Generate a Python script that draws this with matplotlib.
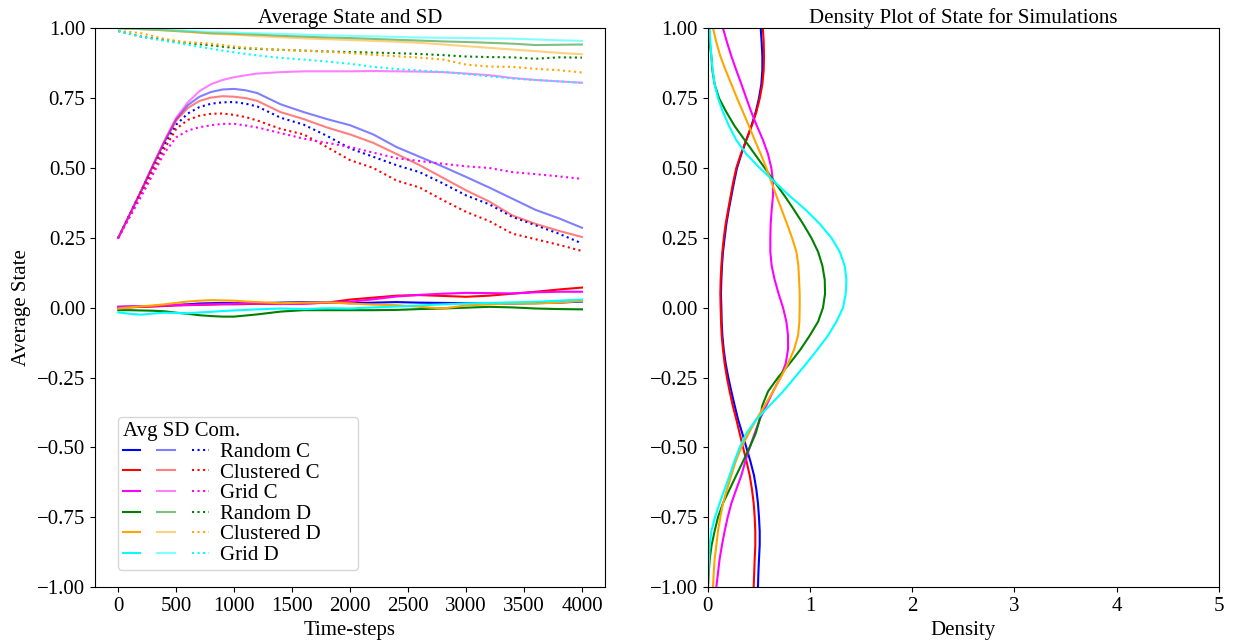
import numpy as np
import matplotlib
matplotlib.use("Agg")
import matplotlib.pyplot as plt
from matplotlib.legend_handler import HandlerTuple

plt.rcParams['font.family'] = ['Liberation Serif', 'DejaVu Serif']
plt.rcParams['font.size'] = 15

# time axis of the left panel (finer at the start where curves bend)
steps = list(range(0, 1201, 100)) + list(range(1400, 4001, 200))

labels = ["Random C", "Clustered C", "Grid C", "Random D", "Clustered D", "Grid D"]
colors = ["blue", "red", "magenta", "green", "orange", "cyan"]

# average state
avg_random_c = [0.003, 0.004, 0.005, 0.006, 0.008, 0.010, 0.012, 0.015, 0.016, 0.017, 0.016, 0.016, 0.016,
                0.018, 0.020, 0.019, 0.016, 0.018, 0.020, 0.018, 0.017, 0.016, 0.015, 0.015, 0.016, 0.018, 0.022]
avg_clustered_c = [0.000, 0.001, 0.003, 0.004, 0.006, 0.008, 0.009, 0.010, 0.011, 0.012, 0.012, 0.013, 0.014,
                   0.013, 0.015, 0.018, 0.029, 0.036, 0.043, 0.045, 0.042, 0.039, 0.043, 0.050, 0.057, 0.065, 0.072]
avg_grid_c = [0.003, 0.004, 0.005, 0.006, 0.008, 0.009, 0.010, 0.011, 0.012, 0.013, 0.014, 0.015, 0.016,
              0.013, 0.014, 0.018, 0.021, 0.030, 0.040, 0.046, 0.050, 0.053, 0.052, 0.051, 0.055, 0.057, 0.057]
avg_random_d = [-0.009, -0.009, -0.010, -0.011, -0.013, -0.018, -0.022, -0.027, -0.030, -0.032, -0.032, -0.028, -0.024,
                -0.014, -0.009, -0.009, -0.009, -0.009, -0.008, -0.005, -0.003, 0.000, 0.003, 0.001, -0.003, -0.005, -0.006]
avg_clustered_d = [-0.003, 0.001, 0.005, 0.008, 0.012, 0.017, 0.022, 0.025, 0.027, 0.026, 0.025, 0.022, 0.020,
                   0.016, 0.018, 0.019, 0.015, 0.011, 0.009, 0.003, -0.003, 0.008, 0.012, 0.015, 0.015, 0.018, 0.024]
avg_grid_d = [-0.017, -0.022, -0.025, -0.021, -0.018, -0.019, -0.020, -0.017, -0.015, -0.012, -0.010, -0.008, -0.006,
              -0.003, -0.005, -0.002, -0.003, 0.001, 0.004, 0.008, 0.012, 0.015, 0.017, 0.019, 0.021, 0.025, 0.029]

# standard deviation
sd_random_c = [0.25, 0.335, 0.42, 0.51, 0.595, 0.675, 0.725, 0.755, 0.772, 0.781, 0.783, 0.778, 0.768,
               0.728, 0.700, 0.675, 0.653, 0.620, 0.575, 0.540, 0.505, 0.468, 0.430, 0.390, 0.350, 0.320, 0.286]
sd_clustered_c = [0.25, 0.335, 0.42, 0.51, 0.595, 0.67, 0.715, 0.740, 0.752, 0.757, 0.755, 0.750, 0.740,
                  0.700, 0.675, 0.645, 0.620, 0.590, 0.550, 0.510, 0.465, 0.420, 0.380, 0.330, 0.300, 0.275, 0.253]
sd_grid_c = [0.25, 0.335, 0.42, 0.51, 0.60, 0.68, 0.735, 0.775, 0.800, 0.815, 0.825, 0.832, 0.838,
             0.843, 0.846, 0.846, 0.846, 0.847, 0.846, 0.845, 0.843, 0.838, 0.832, 0.822, 0.815, 0.810, 0.805]
sd_random_d = [1.0, 0.999, 0.997, 0.995, 0.993, 0.990, 0.988, 0.985, 0.982, 0.981, 0.980, 0.978, 0.977,
               0.973, 0.970, 0.967, 0.965, 0.962, 0.959, 0.956, 0.953, 0.951, 0.948, 0.945, 0.940, 0.941, 0.942]
sd_clustered_d = [1.0, 0.999, 0.997, 0.995, 0.992, 0.990, 0.987, 0.984, 0.981, 0.979, 0.977, 0.975, 0.972,
                  0.968, 0.964, 0.961, 0.958, 0.955, 0.952, 0.948, 0.942, 0.936, 0.930, 0.924, 0.918, 0.912, 0.907]
sd_grid_d = [1.0, 0.999, 0.998, 0.997, 0.995, 0.993, 0.991, 0.989, 0.987, 0.986, 0.985, 0.983, 0.982,
             0.980, 0.977, 0.975, 0.973, 0.971, 0.969, 0.967, 0.966, 0.965, 0.964, 0.963, 0.960, 0.957, 0.955]

# community measure
com_random_c = [0.25, 0.335, 0.42, 0.505, 0.585, 0.655, 0.695, 0.718, 0.730, 0.735, 0.736, 0.730, 0.720,
                0.680, 0.655, 0.615, 0.570, 0.540, 0.510, 0.485, 0.445, 0.402, 0.370, 0.325, 0.295, 0.265, 0.230]
com_clustered_c = [0.25, 0.33, 0.41, 0.49, 0.57, 0.64, 0.672, 0.687, 0.694, 0.695, 0.690, 0.682, 0.670,
                   0.640, 0.620, 0.575, 0.528, 0.500, 0.455, 0.430, 0.385, 0.343, 0.310, 0.265, 0.245, 0.225, 0.203]
com_grid_c = [0.25, 0.325, 0.40, 0.478, 0.555, 0.61, 0.634, 0.646, 0.653, 0.658, 0.658, 0.652, 0.645,
              0.625, 0.605, 0.590, 0.575, 0.555, 0.535, 0.525, 0.515, 0.506, 0.500, 0.485, 0.478, 0.470, 0.461]
com_random_d = [0.99, 0.98, 0.97, 0.964, 0.958, 0.952, 0.947, 0.943, 0.939, 0.934, 0.930, 0.928, 0.926,
                0.923, 0.920, 0.917, 0.915, 0.913, 0.911, 0.908, 0.904, 0.899, 0.897, 0.896, 0.891, 0.896, 0.895]
com_clustered_d = [0.99, 0.987, 0.982, 0.972, 0.962, 0.955, 0.950, 0.948, 0.945, 0.940, 0.935, 0.931, 0.928,
                   0.923, 0.920, 0.916, 0.911, 0.905, 0.900, 0.895, 0.888, 0.870, 0.863, 0.862, 0.855, 0.850, 0.842]
com_grid_d = [0.99, 0.98, 0.97, 0.962, 0.955, 0.948, 0.941, 0.934, 0.927, 0.920, 0.914, 0.908, 0.903,
              0.894, 0.888, 0.881, 0.873, 0.862, 0.854, 0.849, 0.844, 0.836, 0.828, 0.820, 0.815, 0.810, 0.805]

# density curves of state (right panel), state from 1 down to -1
state = np.round(np.linspace(1.0, -1.0, 41), 2)
dens_random_c = [0.519, 0.528, 0.535, 0.535, 0.525, 0.502, 0.470, 0.427, 0.378, 0.330, 0.287,
                 0.258, 0.232, 0.206, 0.183, 0.166, 0.150, 0.140, 0.134, 0.130, 0.134,
                 0.137, 0.144, 0.157, 0.176, 0.202, 0.232, 0.264, 0.297, 0.339, 0.378,
                 0.418, 0.453, 0.476, 0.492, 0.502, 0.509, 0.509, 0.502, 0.496, 0.492]
dens_clustered_c = [0.540, 0.548, 0.551, 0.548, 0.535, 0.510, 0.476, 0.430, 0.378, 0.325, 0.280,
                    0.250, 0.225, 0.200, 0.176, 0.158, 0.144, 0.134, 0.127, 0.124, 0.127,
                    0.131, 0.137, 0.150, 0.166, 0.188, 0.215, 0.245, 0.280, 0.313, 0.346,
                    0.380, 0.411, 0.433, 0.450, 0.460, 0.466, 0.466, 0.460, 0.455, 0.450]
dens_grid_c = [0.150, 0.189, 0.232, 0.280, 0.330, 0.378, 0.427, 0.482, 0.541, 0.590, 0.623,
               0.639, 0.639, 0.626, 0.616, 0.613, 0.613, 0.626, 0.655, 0.694, 0.737,
               0.770, 0.786, 0.786, 0.763, 0.711, 0.639, 0.574, 0.509, 0.460, 0.411,
               0.368, 0.330, 0.280, 0.232, 0.196, 0.166, 0.140, 0.117, 0.101, 0.085]
dens_random_d = [0.013, 0.020, 0.036, 0.046, 0.068, 0.111, 0.183, 0.264, 0.362, 0.460, 0.558,
                 0.655, 0.753, 0.845, 0.933, 1.014, 1.080, 1.122, 1.145, 1.148, 1.128,
                 1.080, 0.998, 0.907, 0.802, 0.688, 0.590, 0.535, 0.509, 0.470, 0.411,
                 0.346, 0.280, 0.215, 0.150, 0.101, 0.068, 0.039, 0.020, 0.010, 0.003]
dens_clustered_d = [0.052, 0.085, 0.124, 0.176, 0.232, 0.287, 0.346, 0.404, 0.460, 0.519, 0.574,
                    0.623, 0.672, 0.724, 0.776, 0.825, 0.868, 0.887, 0.894, 0.900, 0.900,
                    0.897, 0.884, 0.845, 0.786, 0.714, 0.639, 0.558, 0.476, 0.401, 0.330,
                    0.274, 0.232, 0.189, 0.150, 0.124, 0.101, 0.085, 0.068, 0.059, 0.052]
dens_grid_d = [0.020, 0.026, 0.036, 0.049, 0.068, 0.101, 0.150, 0.209, 0.280, 0.378, 0.509,
               0.655, 0.802, 0.959, 1.096, 1.210, 1.292, 1.340, 1.357, 1.350, 1.324,
               1.259, 1.177, 1.073, 0.965, 0.851, 0.737, 0.607, 0.476, 0.378, 0.313,
               0.261, 0.215, 0.166, 0.117, 0.072, 0.036, 0.020, 0.013, 0.007, 0.003]

avgs = [avg_random_c, avg_clustered_c, avg_grid_c, avg_random_d, avg_clustered_d, avg_grid_d]
sds = [sd_random_c, sd_clustered_c, sd_grid_c, sd_random_d, sd_clustered_d, sd_grid_d]
coms = [com_random_c, com_clustered_c, com_grid_c, com_random_d, com_clustered_d, com_grid_d]
dens = [dens_random_c, dens_clustered_c, dens_grid_c, dens_random_d, dens_clustered_d, dens_grid_d]

fig = plt.figure(figsize=(12.35, 6.43), dpi=100)
ax1 = fig.add_axes([0.077, 0.087, 0.413, 0.869])
ax2 = fig.add_axes([0.573, 0.087, 0.414, 0.869])

handles = []
for a, s, c, col in zip(avgs, sds, coms, colors):
    h1, = ax1.plot(steps, a, color=col, lw=1.5)
    h2, = ax1.plot(steps, s, color=col, lw=1.5, alpha=0.5)
    h3, = ax1.plot(steps, c, color=col, lw=1.5, linestyle=':')
    handles.append((h1, h2, h3))

ax1.set_ylim(-1, 1)
ax1.set_xticks(np.arange(0, 4001, 500))
ax1.set_yticks(np.arange(-1, 1.01, 0.25))
ax1.set_title("Average State and SD", fontsize=15, pad=4)
ax1.set_xlabel("Time-steps")
ax1.set_ylabel("Average State")
leg = ax1.legend(handles, labels, title="Avg SD Com.", alignment='left',
                 handler_map={tuple: HandlerTuple(ndivide=None, pad=0.82)},
                 handlelength=4.1, handletextpad=0.55, loc='lower left',
                 bbox_to_anchor=(0.045, 0.03, 0.47, 0.3), mode='expand',
                 borderaxespad=0, fontsize=15, title_fontsize=15,
                 labelspacing=0.05, borderpad=0.25)

for d, col in zip(dens, colors):
    ax2.plot(d, state, color=col, lw=1.5)

ax2.set_xlim(0, 5)
ax2.set_ylim(-1, 1)
ax2.set_yticks(np.arange(-1, 1.01, 0.25))
ax2.set_title("Density Plot of State for Simulations", fontsize=15, pad=4)
ax2.set_xlabel("Density")

fig.savefig("out.png", dpi=100)
